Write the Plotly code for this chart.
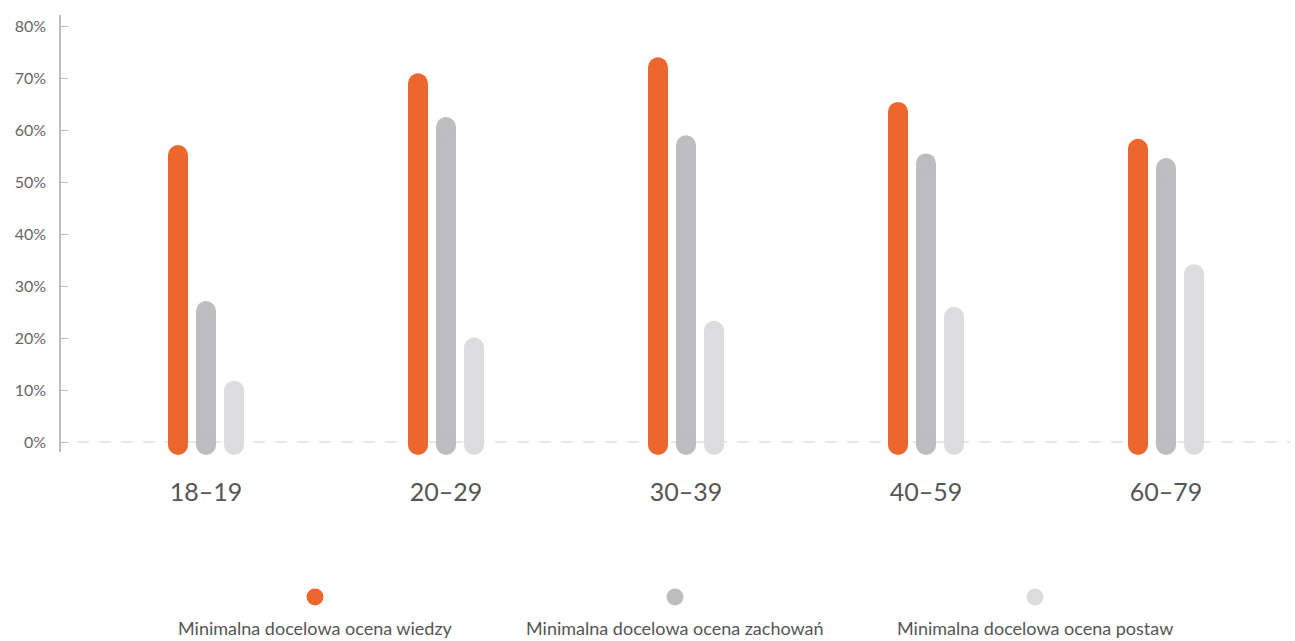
import plotly.graph_objects as go

# Age groups and the three series (percent of respondents)
age_groups = ["18–19", "20–29", "30–39", "40–59", "60–79"]
series_names = [
    "Minimalna docelowa ocena wiedzy",
    "Minimalna docelowa ocena zachowań",
    "Minimalna docelowa ocena postaw",
]
wiedza = [57.1, 70.9, 74.0, 65.4, 58.3]
zachowania = [27.1, 62.5, 59.0, 55.5, 54.6]
postawy = [11.8, 20.1, 23.3, 26.0, 34.2]
y_ticks = [0, 10, 20, 30, 40, 50, 60, 70, 80]
y_tick_labels = [f"{v}%" for v in y_ticks]

series_values = [wiedza, zachowania, postawy]
colors = ["#EB672E", "#BDBCBE", "#DCDCDE"]

# Canvas geometry (pixels)
W, H = 1295, 641
M_L, M_R, M_T, M_B = 61, 5, 15, 189
plot_w = W - M_L - M_R
plot_h = H - M_T - M_B

# Axis ranges
y_min, y_max = -1.923, 82.115
x_min, x_max = -0.6042, 4.5167
px_per_y = plot_h / (y_max - y_min)
px_per_x = plot_w / (x_max - x_min)

# Rounded column styling
bar_px = 20          # column thickness
gap_px = 28          # distance between column centres in a group
bottom_px = 3        # how far the bottom cap centre sits below zero
r_y = (bar_px / 2) / px_per_y
bar_w = bar_px / px_per_x
offsets = [-gap_px / px_per_x, 0.0, gap_px / px_per_x]
bottom_c = -bottom_px / px_per_y

fig = go.Figure()

for name, vals, col, off in zip(series_names, series_values, colors, offsets):
    xs = [i + off for i in range(len(age_groups))]
    tops = [v - r_y for v in vals]
    # straight body of the column
    fig.add_trace(go.Bar(
        x=xs, y=[t - bottom_c for t in tops], base=[bottom_c] * len(xs),
        width=bar_w, marker=dict(color=col, line=dict(width=0)),
        name=name, showlegend=False, hoverinfo="skip",
    ))
    # round caps at both ends
    fig.add_trace(go.Scatter(
        x=xs + xs, y=tops + [bottom_c] * len(xs), mode="markers",
        marker=dict(size=bar_px, color=col, line=dict(width=0)),
        cliponaxis=False, showlegend=False, hoverinfo="skip",
    ))

# dashed zero line
fig.add_shape(type="line", xref="paper", yref="y", x0=(77 - M_L) / plot_w, x1=1,
              y0=0, y1=0, line=dict(color="#E6E6E6", width=2, dash="12px,10px"),
              layer="below")

# legend: dot above centred label
legend_x_px = [315, 675, 1035]
for name, col, lx in zip(series_names, colors, legend_x_px):
    xp = (lx - M_L) / plot_w
    yp_dot = (M_T + plot_h - 597) / plot_h
    fig.add_shape(type="circle", xref="paper", yref="paper",
                  xsizemode="pixel", ysizemode="pixel",
                  xanchor=xp, yanchor=yp_dot,
                  x0=-8.5, x1=8.5, y0=-8.5, y1=8.5,
                  fillcolor=col, line=dict(width=0))
    fig.add_annotation(xref="paper", yref="paper", x=xp,
                       y=(M_T + plot_h - 641) / plot_h,
                       text=name, showarrow=False, xanchor="center", yanchor="bottom",
                       font=dict(family="Lato", size=18, color="#555555"))

fig.update_layout(
    width=W, height=H,
    margin=dict(l=M_L, r=M_R, t=M_T, b=M_B),
    paper_bgcolor="white", plot_bgcolor="white",
    barmode="overlay", showlegend=False,
    font=dict(family="Lato", color="#666666"),
    xaxis=dict(
        range=[x_min, x_max], tickvals=list(range(len(age_groups))),
        ticktext=age_groups, showgrid=False, zeroline=False, showline=False,
        ticks="", ticklabelstandoff=23,
        tickfont=dict(family="Lato", size=25, color="#555555"),
    ),
    yaxis=dict(
        range=[y_min, y_max], tickvals=y_ticks, ticktext=y_tick_labels,
        showgrid=False, zeroline=False, showline=True,
        linecolor="#BDBDBD", linewidth=1.5,
        ticks="inside", ticklen=7, tickwidth=1, tickcolor="#BDBDBD",
        ticklabelstandoff=10,
        tickfont=dict(family="Lato", size=16, color="#666666"),
    ),
)

fig.write_html("out.html")
